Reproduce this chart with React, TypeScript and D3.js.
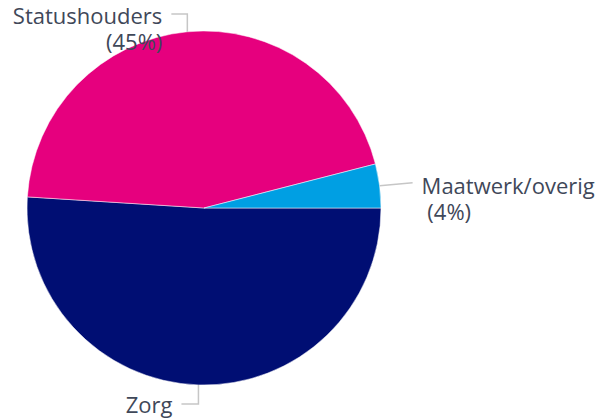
import React from "react";
import * as d3 from "d3";

const categories = ["Zorg", "Statushouders", "Maatwerk/overig"];
const values = [51, 45, 4];
const colors = ["#000e73", "#e6007e", "#009fe3"];
const labelLines = [["Zorg"], ["Statushouders", "(45%)"], ["Maatwerk/overig", " (4%)"]];

const W = 597;
const H = 420;
const cx = 204;
const cy = 208;
const R = 177;

export default function App() {
  const pie = d3
    .pie<number>()
    .sort(null)
    .startAngle(Math.PI / 2)
    .endAngle(Math.PI / 2 + 2 * Math.PI);
  const arcs = pie(values);
  const arc = d3.arc<d3.PieArcDatum<number>>().innerRadius(0).outerRadius(R);

  const fs = 22;
  const lh = 26;
  const textColor = "#3f4859";
  const lineColor = "#c6c6c6";

  const labels = arcs.map((a, i) => {
    const mid = (a.startAngle + a.endAngle) / 2;
    const sx = cx + R * Math.sin(mid);
    const sy = cy - R * Math.cos(mid);
    let path = "";
    let tx = 0;
    let ty = 0;
    let anchor: "start" | "end" = "start";
    if (i === 0) {
      const ey = sy + 19;
      path = `M${sx},${sy} L${sx},${ey} L${sx - 17},${ey}`;
      tx = sx - 26;
      ty = ey + 9;
      anchor = "end";
    } else if (i === 1) {
      const ey = 14;
      path = `M${sx},${sy} L${sx},${ey} L${sx - 16},${ey}`;
      tx = sx - 25;
      ty = ey + 10;
      anchor = "end";
    } else {
      const ex = sx + 33;
      const ey = sy - 3;
      path = `M${sx},${sy} L${ex},${ey}`;
      tx = ex + 9;
      ty = ey + 11;
      anchor = "start";
    }
    return { path, tx, ty, anchor, lines: labelLines[i] };
  });

  return (
    <svg
      width={W}
      height={H}
      style={{ position: "absolute", left: 0, top: 0 }}
      fontFamily="'Open Sans', sans-serif"
    >
      <rect width={W} height={H} fill="#ffffff" />
      <g transform={`translate(${cx},${cy})`}>
        {arcs.map((a, i) => (
          <path key={categories[i]} d={arc(a) || ""} fill={colors[i]} stroke="#ffffff" strokeWidth={0.5} />
        ))}
      </g>
      {labels.map((l, i) => (
        <g key={i}>
          <path d={l.path} fill="none" stroke={lineColor} strokeWidth={1.5} />
          <text x={l.tx} y={l.ty} fontSize={fs} fill={textColor} textAnchor={l.anchor} style={{ whiteSpace: "pre" }}>
            {l.lines.map((t, j) => (
              <tspan key={j} x={l.tx} dy={j === 0 ? 0 : lh}>
                {t}
              </tspan>
            ))}
          </text>
        </g>
      ))}
    </svg>
  );
}
